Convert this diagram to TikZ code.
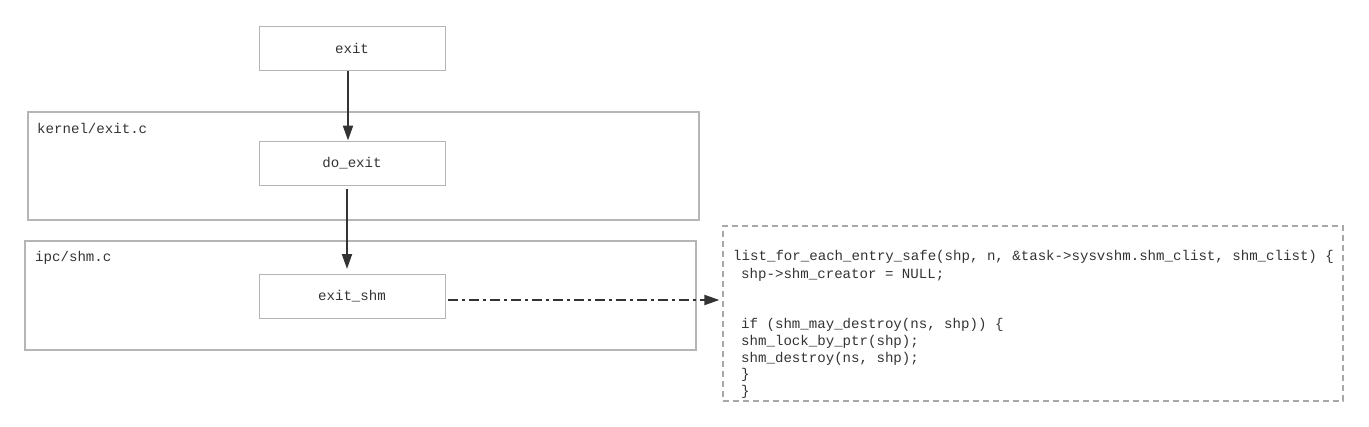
\documentclass[tikz,border=0pt]{standalone}
\usepackage{fontspec}
\setmonofont{Liberation Mono}
\usetikzlibrary{arrows.meta}
\definecolor{ink}{HTML}{333333}
\definecolor{edge}{HTML}{B5B5B5}
\definecolor{frame}{HTML}{A8A8A8}
\newcommand{\codefont}{\fontsize{14.1}{17}\selectfont\ttfamily}
\tikzset{
  func/.style={draw=edge, line width=1pt, minimum width=186pt, minimum height=44pt, text=ink, font=\codefont},
  group/.style={draw=edge, line width=1.6pt, minimum width=671pt, inner sep=0pt},
  grouplabel/.style={anchor=west, inner sep=0pt, text=ink, font=\codefont},
  codeline/.style={anchor=base west, inner sep=0pt, text=ink, font=\codefont},
  call/.style={-{Triangle[length=15pt,width=10pt]}, draw=ink, line width=2pt},
}
\begin{document}
\begin{tikzpicture}[x=1pt,y=-1pt]
        \useasboundingbox (0,0) rectangle (1369,426);
        % Draw source file groups
        \node[group, minimum height=108pt] (kernelgrp) at (363.5,166) {};
        \node[grouplabel] (kernellbl) at (37,128) {kernel/exit.c};
        \node[group, minimum height=109pt] (ipcgrp) at (360.5,295.5) {};
        \node[grouplabel] (ipclbl) at (35,258) {ipc/shm.c};
        % Draw functions
        \node[func] (exit) at (352,48) {exit};
        \node[func] (doexit) at (352,163) {do\_exit};
        \node[func] (exitshm) at (352,296.5) {exit\_shm};
        % Draw code box
        \node[draw=frame, line width=1.2pt, dash pattern=on 6pt off 4pt,
              minimum width=620pt, minimum height=175pt] (codebox) at (1033,313.5) {};
        \foreach \i/\x/\y/\txt in {
            1/733/260/{list\_for\_each\_entry\_safe(shp, n, \&task->sysvshm.shm\_clist, shm\_clist) \{},
            2/741/278/{shp->shm\_creator = NULL;},
            3/741/328/{if (shm\_may\_destroy(ns, shp)) \{},
            4/741/345/{shm\_lock\_by\_ptr(shp);},
            5/741/362/{shm\_destroy(ns, shp);},
            6/741/378/{\}},
            7/741/395/{\}}}
            \node[codeline] (code\i) at (\x,\y) {\txt};
        % Draw calls
        \draw[call] ([xshift=-4pt]exit.south) -- ([xshift=-4pt]doexit.north);
        \draw[call, shorten <=3pt, shorten >=5pt] ([xshift=-5pt]doexit.south) -- ([xshift=-5pt]exitshm.north);
        \draw[call, dash pattern=on 10pt off 4pt on 3pt off 4pt, shorten <=2pt, shorten >=3pt]
            ([yshift=-3.5pt]exitshm.east) -- ([yshift=-3.5pt]exitshm.east -| codebox.west);
\end{tikzpicture}
\end{document}
